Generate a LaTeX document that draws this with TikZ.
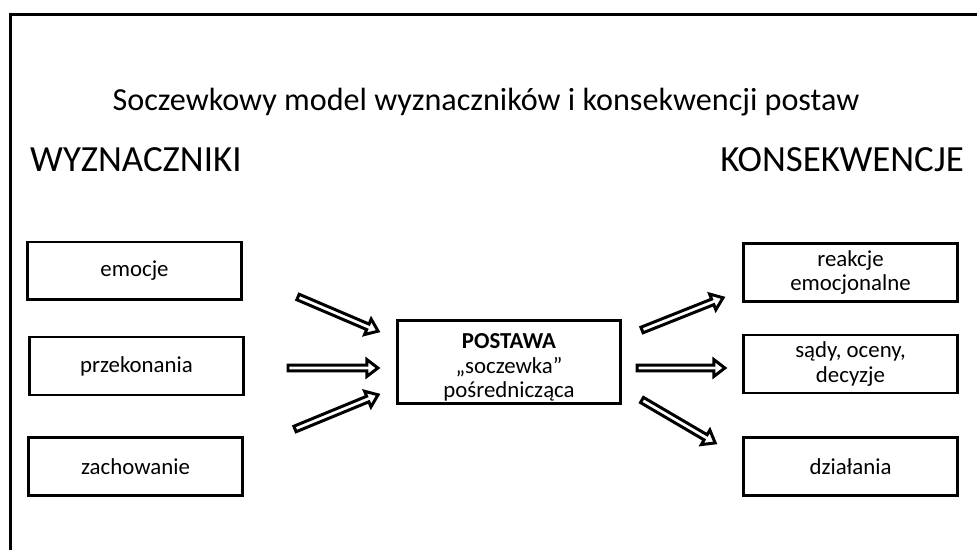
\documentclass[tikz,border=0pt]{standalone}
\usepackage{fontspec}
\setmainfont{Carlito}
\usetikzlibrary{calc}

\tikzset{
  box/.style={draw,line width=1.7pt,minimum width=4.3cm,minimum height=1.16cm,align=center,font=\fontsize{13}{14}\selectfont},
  arrw/.style={draw,fill=white,line width=1.7pt,line join=miter,
    to path={let \p1=($(\tikztotarget)-(\tikztostart)$), \n1={atan2(\y1,\x1)}, \n2={veclen(\x1,\y1)-7.5} in
      ($(\tikztostart)+(\n1+90:1.7pt)$) -- ($(\tikztostart)+({\n1}:{\n2})+(\n1+90:1.7pt)$)
      -- ($(\tikztostart)+({\n1}:{\n2})+(\n1+90:4.8pt)$) -- ($(\tikztotarget)+(\n1:-1.2pt)$)
      -- ($(\tikztostart)+({\n1}:{\n2})+(\n1-90:4.8pt)$) -- ($(\tikztostart)+({\n1}:{\n2})+(\n1-90:1.7pt)$)
      -- ($(\tikztostart)+(\n1-90:1.7pt)$) -- cycle}},
}

\begin{document}
\begin{tikzpicture}[x=0.02cm,y=-0.02cm]
\useasboundingbox (0,0) rectangle (977,550);
\draw[line width=1.7pt] (10.5,550) -- (10.5,14.5) -- (977,14.5);
\node (title)at(486,102){\fontsize{18.3}{20}\selectfont Soczewkowy model wyznaczników i konsekwencji postaw};
\node[anchor=west] (wyz)at(24,160){\fontsize{21}{22}\selectfont WYZNACZNIKI};
\node[anchor=east] (kon)at(970,160){\fontsize{21}{22}\selectfont KONSEKWENCJE};
\node[box] (emocje)at(134.5,271){emocje};
\node[box] (przek)at(136.5,366){przekonania};
\node[box] (zach)at(135.5,466.5){zachowanie};
\node[box,minimum width=4.48cm,minimum height=1.68cm,inner ysep=0pt] (postawa)at(509,362){\rule{0pt}{15pt}\textbf{POSTAWA}\\„soczewka”\\pośrednicząca};
\node[box] (reakcje)at(850.5,272.5){reakcje\\emocjonalne};
\node[box] (sady)at(850.5,364){sądy, oceny,\\decyzje};
\node[box] (dzial)at(850.5,466.5){działania};
\coordinate (l1a)at(298,297); \coordinate (l1b)at(380,332);
\coordinate (l2a)at(288,368); \coordinate (l2b)at(380,368);
\coordinate (l3a)at(295,429); \coordinate (l3b)at(380,394);
\coordinate (r1a)at(642,330); \coordinate (r1b)at(725,297);
\coordinate (r2a)at(637,368); \coordinate (r2b)at(727,368);
\coordinate (r3a)at(642,400); \coordinate (r3b)at(717,444);
\draw[arrw] (l1a) to (l1b);
\draw[arrw] (l2a) to (l2b);
\draw[arrw] (l3a) to (l3b);
\draw[arrw] (r1a) to (r1b);
\draw[arrw] (r2a) to (r2b);
\draw[arrw] (r3a) to (r3b);
\end{tikzpicture}
\end{document}
